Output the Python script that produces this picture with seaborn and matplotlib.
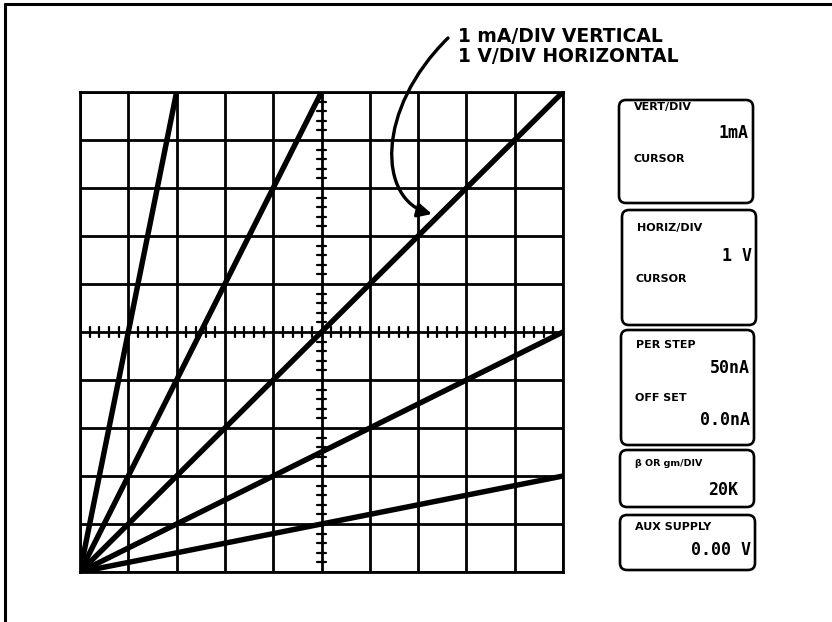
import matplotlib
matplotlib.use("Agg")
import matplotlib.pyplot as plt
import numpy as np
import pandas as pd
import seaborn as sns
from matplotlib.patches import FancyBboxPatch, FancyArrowPatch
from matplotlib.path import Path

# traces: each starts at the origin and ends where it leaves the graticule
trace_ids = ["200 ohm", "500 ohm", "1 kohm", "2 kohm", "5 kohm"]
end_volts = [2.0, 5.0, 10.0, 10.0, 10.0]   # divisions (1 V/div)
end_ma = [10.0, 10.0, 10.0, 5.0, 2.0]      # divisions (1 mA/div)

panel_labels = ["VERT/DIV", "HORIZ/DIV", "PER STEP", "\u03b2 OR gm/DIV", "AUX SUPPLY"]
panel_values = ["1mA", "1 V", "50nA", "20K", "0.00 V"]
panel_sub_labels = ["CURSOR", "CURSOR", "OFF SET", "", ""]
panel_sub_values = ["", "", "0.0nA", "", ""]

rows = []
for tid, v, i in zip(trace_ids, end_volts, end_ma):
    rows.append({"trace": tid, "volts": 0.0, "ma": 0.0})
    rows.append({"trace": tid, "volts": v, "ma": i})
df = pd.DataFrame(rows)

sns.set_style("white")
plt.rcParams['font.family'] = ['DejaVu Sans']
plt.rcParams['text.color'] = "black"

W, H = 832, 622
fig = plt.figure(figsize=(W / 100, H / 100), dpi=100)
fig.patch.set_facecolor("white")

# graticule
gx0, gx1, gy0, gy1 = 80, 563, 92, 572
ax = fig.add_axes([gx0 / W, (H - gy1) / H, (gx1 - gx0) / W, (gy1 - gy0) / H])
sns.lineplot(data=df, x="volts", y="ma", units="trace", estimator=None,
             color="black", linewidth=3.9, ax=ax, legend=False,
             solid_capstyle="butt")
ax.set_xlim(0, 10)
ax.set_ylim(0, 10)
ax.set_xticks(range(11))
ax.set_yticks(range(11))
ax.grid(True, color="black", linewidth=2.0)
ax.set_axisbelow(True)
ax.tick_params(length=0, labelbottom=False, labelleft=False)
ax.set_xlabel("")
ax.set_ylabel("")
for s in ax.spines.values():
    s.set_visible(True)
    s.set_color("black")
    s.set_linewidth(2.0)

# minor ticks on the centre axes
minor = np.arange(0.2, 10, 0.2)
minor = minor[np.abs(minor - np.round(minor)) > 0.05]
for m in minor:
    ax.plot([m, m], [4.9, 5.1], color="black", lw=1.6)
    ax.plot([4.9, 5.1], [m, m], color="black", lw=1.6)

# overlay in pixel coordinates
ov = fig.add_axes([0, 0, 1, 1])
ov.set_xlim(0, W)
ov.set_ylim(H, 0)
ov.axis("off")
ov.patch.set_alpha(0)

ov.plot([5, W], [4, 4], color="black", lw=2.2)
ov.plot([5, 5], [4, H], color="black", lw=2.2)

ov.text(458, 36, "1 mA/DIV VERTICAL", fontsize=13.5, fontweight="bold", va="center")
ov.text(458, 57, "1 V/DIV HORIZONTAL", fontsize=13.5, fontweight="bold", va="center")

arrow_path = Path([(448, 38), (375, 110), (378, 200), (432, 214)],
                  [Path.MOVETO, Path.CURVE4, Path.CURVE4, Path.CURVE4])
ov.add_patch(FancyArrowPatch(path=arrow_path, arrowstyle="-|>,head_length=6,head_width=3",
                             lw=2.4, color="black", mutation_scale=1.4))

# readout panels
boxes = [(619, 100, 753, 203), (622, 210, 756, 325), (621, 330, 754, 445),
         (620, 450, 754, 507), (620, 515, 755, 570)]
label_y = [107, 228, 345, 464, 527]
value_y = [133, 256, 368, 490, 550]
sub_y = [159, 279, 398, 0, 0]
subval_y = [0, 0, 420, 0, 0]
for k, (x0, y0, x1, y1) in enumerate(boxes):
    ov.add_patch(FancyBboxPatch((x0, y0), x1 - x0, y1 - y0,
                                boxstyle="round,pad=0,rounding_size=7",
                                fill=False, ec="black", lw=1.9))
    fs = 6.8 if k == 3 else 8
    ov.text(x0 + 15, label_y[k], panel_labels[k], fontsize=fs, fontweight="bold", va="center")
    vx = x1 - 16 if k == 3 else x1 - 4
    ov.text(vx, value_y[k], panel_values[k], fontsize=12, fontweight="bold",
            family="DejaVu Sans Mono", ha="right", va="center")
    if panel_sub_labels[k]:
        ov.text(x0 + 14, sub_y[k], panel_sub_labels[k], fontsize=8, fontweight="bold", va="center")
    if panel_sub_values[k]:
        ov.text(x1 - 4, subval_y[k], panel_sub_values[k], fontsize=12, fontweight="bold",
                family="DejaVu Sans Mono", ha="right", va="center")

fig.savefig("out.png", dpi=100)
